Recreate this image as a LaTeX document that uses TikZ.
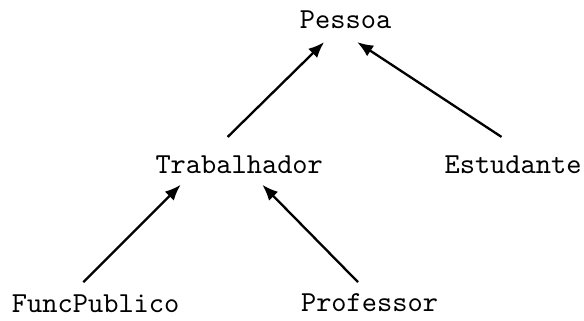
\documentclass[tikz,border=0pt]{standalone}
\usepackage{tikz}
\usetikzlibrary{arrows.meta}

\begin{document}
\begin{tikzpicture}[every node/.style={font=\ttfamily,anchor=base}, seta/.style={thick,-{Latex[length=5.5pt,width=4.4pt]}}]
        \useasboundingbox (0,0) rectangle (7.08,-3.89);
        % classes
        \node (pessoa) at(4.19,-0.35) {Pessoa};
        \node (trab) at(2.90,-2.10) {Trabalhador};
        \node (estud) at(6.22,-2.10) {Estudante};
        \node (func) at(1.16,-3.79) {FuncPublico};
        \node (prof) at(4.48,-3.78) {Professor};
        % heranca
        \draw [seta] ([shift={(-0.14,0.44)}]trab.base) -- ([shift={(-0.26,-0.16)}]pessoa.base);
        \draw [seta] ([shift={(-0.14,0.44)}]estud.base) -- ([shift={(0.14,-0.16)}]pessoa.base);
        \draw [seta] ([shift={(-0.15,0.37)}]func.base) -- ([shift={(-0.71,-0.14)}]trab.base);
        \draw [seta] ([shift={(-0.14,0.36)}]prof.base) -- ([shift={(0.28,-0.14)}]trab.base);
\end{tikzpicture}
\end{document}
